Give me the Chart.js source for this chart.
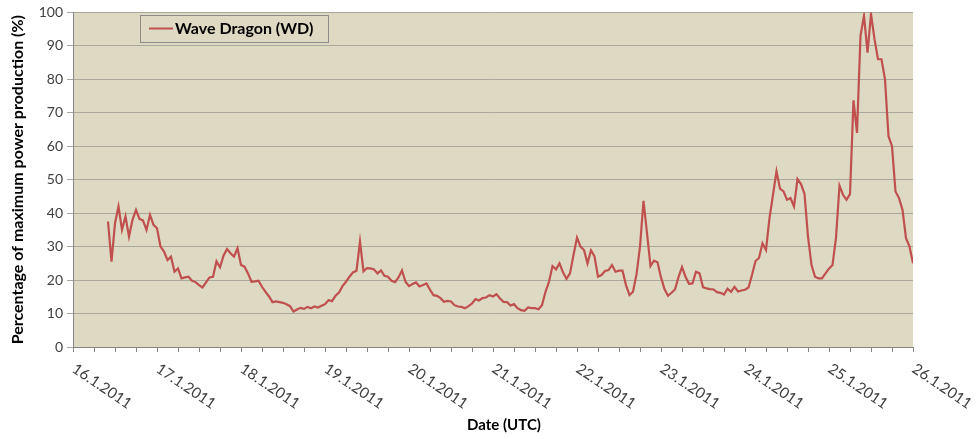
<!DOCTYPE html>
<html>
<head>
<meta charset="utf-8">
<script src="https://cdn.jsdelivr.net/npm/chart.js@4/dist/chart.umd.min.js"></script>
<style>
  html, body { margin: 0; padding: 0; background: #ffffff; }
  #wrap { width: 977px; height: 439px; position: relative; }
</style>
</head>
<body>
<div id="wrap"><canvas id="chart" width="977" height="439"></canvas></div>
<script>
// Wave Dragon output, hourly, as % of maximum power production (UTC)
const seriesLabel = 'Wave Dragon (WD)';
const dateLabels = ['16.1.2011', '17.1.2011', '18.1.2011', '19.1.2011', '20.1.2011',
  '21.1.2011', '22.1.2011', '23.1.2011', '24.1.2011', '25.1.2011', '26.1.2011'];
// hours counted from 16.1.2011 00:00 UTC
const startHour = 10;
const hoursPerDay = 24;
const wdPercent = [
  37.5, 25.5, 37, 42, 35, 39, 33, 38, 41, 38.3,
  37.8, 35, 39.5, 36.5, 35.5, 30, 28.5, 26, 27, 22.5,
  23.5, 20.5, 20.8, 21, 19.8, 19.4, 18.5, 17.8, 19.3, 20.8,
  21, 25.6, 23.8, 27.3, 29.3, 28, 27, 29.5, 24.5, 24,
  22, 19.5, 19.6, 19.8, 18, 16.5, 15.1, 13.4, 13.6, 13.4,
  13.2, 12.8, 12.2, 10.6, 11.2, 11.7, 11.4, 12, 11.6, 12.1,
  11.8, 12.3, 12.8, 14, 13.7, 15.3, 16.3, 18.2, 19.5, 21,
  22.3, 22.8, 31.5, 22.6, 23.6, 23.5, 23.2, 22, 22.9, 21.3,
  21, 19.8, 19.4, 20.8, 22.9, 19.5, 18.2, 18.8, 19.3, 18.1,
  18.5, 19, 17.1, 15.5, 15.3, 14.6, 13.5, 13.8, 13.6, 12.5,
  12.1, 12, 11.6, 12.2, 13, 14.3, 13.9, 14.6, 14.8, 15.5,
  15.1, 15.8, 14.5, 13.5, 13.4, 12.4, 12.8, 11.6, 11, 10.8,
  11.8, 11.6, 11.6, 11.3, 12.5, 16.5, 19.5, 24.2, 23.2, 25,
  22.3, 20.4, 22, 27.5, 32.7, 30, 29, 25, 28.9, 27.1,
  21, 21.5, 22.7, 23, 24.5, 22.5, 22.8, 22.8, 18.5, 15.5,
  16.5, 21.7, 30, 43.7, 34, 24.2, 25.8, 25.3, 20.8, 17.3,
  15.3, 16.2, 17.2, 20.9, 23.9, 21, 18.9, 19, 22.5, 22,
  17.9, 17.5, 17.3, 17.2, 16.4, 16.2, 15.7, 17.4, 16.5, 18,
  16.6, 16.9, 17.1, 17.8, 21.5, 25.7, 26.6, 31, 29, 38.5,
  45.5, 52.5, 47.3, 46.5, 44, 44.5, 42, 50.2, 48.7, 45.8,
  33, 24.5, 21, 20.5, 20.5, 22, 23.4, 24.5, 32.7, 48.2,
  45.5, 44, 45.7, 73.7, 64, 93, 99, 88, 99.5, 92,
  86, 86, 80, 63, 60, 46.5, 44.5, 41, 32.5, 30, 25
];
const yTickValues = [0, 10, 20, 30, 40, 50, 60, 70, 80, 90, 100];

const lineColor = '#c0504d';
const plotFill = '#ddd9c3';
const axisGray = '#868686';
const gridGray = '#aaa89c';
const fontFamily = 'Lato, "Open Sans", sans-serif';

const points = wdPercent.map((v, i) => ({ x: startHour + i, y: v }));

const plotBackground = {
  id: 'plotBackground',
  beforeDraw(chart) {
    const { ctx, chartArea: a } = chart;
    ctx.save();
    ctx.fillStyle = plotFill;
    ctx.fillRect(a.left, a.top, a.right - a.left, a.bottom - a.top);
    ctx.restore();
  }
};

const dateAxisLabels = {
  id: 'dateAxisLabels',
  afterDraw(chart) {
    const { ctx, scales: { x }, chartArea: a } = chart;
    ctx.save();
    ctx.fillStyle = '#404040';
    ctx.font = '15px ' + fontFamily;
    ctx.textAlign = 'left';
    ctx.textBaseline = 'top';
    dateLabels.forEach((lbl, i) => {
      const px = x.getPixelForValue(i * hoursPerDay);
      ctx.save();
      ctx.translate(px + 5, a.bottom + 14);
      ctx.rotate(34 * Math.PI / 180);
      ctx.fillText(lbl, 0, 0);
      ctx.restore();
    });
    // axis title
    ctx.fillStyle = '#000000';
    ctx.font = 'bold 15px ' + fontFamily;
    ctx.textAlign = 'center';
    ctx.textBaseline = 'middle';
    ctx.fillText('Date (UTC)', 504, 425);
    ctx.restore();
  }
};

const boxLegend = {
  id: 'boxLegend',
  afterDraw(chart) {
    const { ctx } = chart;
    const ds = chart.data.datasets[0];
    ctx.save();
    ctx.fillStyle = plotFill;
    ctx.fillRect(140, 15, 188, 27);
    ctx.strokeStyle = '#8c8c8c';
    ctx.lineWidth = 1;
    ctx.strokeRect(140.5, 15.5, 188, 27);
    ctx.strokeStyle = ds.borderColor;
    ctx.lineWidth = 2;
    ctx.beginPath();
    ctx.moveTo(149, 28.5);
    ctx.lineTo(173, 28.5);
    ctx.stroke();
    ctx.fillStyle = '#000000';
    ctx.font = 'bold 16px ' + fontFamily;
    ctx.textAlign = 'left';
    ctx.textBaseline = 'middle';
    ctx.fillText(ds.label, 175, 29);
    ctx.restore();
  }
};

new Chart(document.getElementById('chart'), {
  type: 'line',
  data: {
    datasets: [{
      label: seriesLabel,
      data: points,
      borderColor: lineColor,
      backgroundColor: lineColor,
      borderWidth: 2.2,
      pointRadius: 0,
      tension: 0,
      fill: false
    }]
  },
  options: {
    responsive: false,
    animation: false,
    devicePixelRatio: 1,
    layout: { padding: { left: 0, right: 64, top: 12, bottom: 0 } },
    plugins: {
      legend: { display: false },
      tooltip: { enabled: false }
    },
    scales: {
      x: {
        type: 'linear',
        min: 0,
        max: dateLabels.length * hoursPerDay - hoursPerDay,
        ticks: { display: false, stepSize: 6, autoSkip: false },
        grid: { drawOnChartArea: false, drawTicks: true, tickLength: 5, color: axisGray },
        border: { color: axisGray, width: 1 },
        afterFit(scale) { scale.height = 92; }
      },
      y: {
        min: 0,
        max: 100,
        afterBuildTicks(scale) { scale.ticks = yTickValues.map(v => ({ value: v })); },
        ticks: { color: '#404040', font: { family: fontFamily, size: 14 }, padding: 4 },
        grid: { color: gridGray, tickLength: 6, lineWidth: 1 },
        border: { color: axisGray, width: 1 },
        title: {
          display: true,
          text: 'Percentage of maximum power production (%)',
          color: '#000000',
          font: { family: fontFamily, size: 16, weight: 'bold' },
          padding: { top: 8, bottom: 0 }
        },
        afterFit(scale) { scale.width = 73; }
      }
    }
  },
  plugins: [plotBackground, dateAxisLabels, boxLegend]
});
</script>
</body>
</html>
